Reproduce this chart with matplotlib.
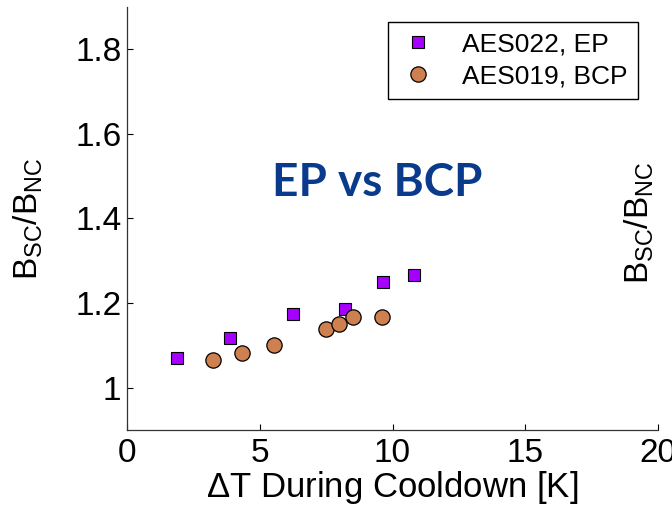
import matplotlib
matplotlib.use("Agg")
import matplotlib.pyplot as plt

plt.rcParams['font.family'] = ['Liberation Sans', 'DejaVu Sans']
plt.rcParams['mathtext.default'] = 'regular'

# AES022, EP
ep_dt = [1.9, 3.88, 6.24, 8.22, 9.65, 10.81]
ep_ratio = [1.070, 1.118, 1.174, 1.185, 1.249, 1.267]

# AES019, BCP
bcp_dt = [3.23, 4.32, 5.54, 7.50, 7.97, 8.51, 9.62]
bcp_ratio = [1.066, 1.083, 1.101, 1.139, 1.150, 1.166, 1.166]

x_ticks = [0, 5, 10, 15, 20]
y_ticks = [1.0, 1.2, 1.4, 1.6, 1.8]
y_tick_labels = ['1', '1.2', '1.4', '1.6', '1.8']

fig = plt.figure(figsize=(6.72, 5.05), dpi=100)
ax = fig.add_axes([127 / 672, 1 - 430 / 505, 531 / 672, 423.3 / 505])

ax.plot(ep_dt, ep_ratio, 's', color='#a600ff', markeredgecolor='black',
        markeredgewidth=0.8, markersize=8.5, label='AES022, EP')
ax.plot(bcp_dt, bcp_ratio, 'o', color='#cf8050', markeredgecolor='black',
        markeredgewidth=0.9, markersize=11, label='AES019, BCP')

ax.set_xlim(0, 20)
ax.set_ylim(0.9, 1.9)
ax.set_xticks(x_ticks)
ax.set_yticks(y_ticks)
ax.set_yticklabels(y_tick_labels)
ax.tick_params(direction='in', length=4, width=0.8, labelsize=24, pad=4)
ax.tick_params(axis='x', pad=6)

for side in ['top', 'right']:
    ax.spines[side].set_visible(False)
for side in ['left', 'bottom']:
    ax.spines[side].set_color('#333333')
    ax.spines[side].set_linewidth(0.9)

ax.set_xlabel(r'$\Delta$T During Cooldown [K]', fontsize=25, labelpad=0)
ax.set_ylabel(r'$B_{SC}/B_{NC}$', fontsize=24, labelpad=22)

leg = ax.legend(loc='upper right', bbox_to_anchor=(0.962, 0.964),
                borderaxespad=0, fontsize=19, fancybox=False,
                edgecolor='black', framealpha=1, handletextpad=0.9,
                borderpad=0.4, labelspacing=0.3, handlelength=1.5)
leg.get_frame().set_linewidth(1.0)

ax.text(0.471, 0.583, 'EP vs BCP', transform=ax.transAxes, fontsize=33,
        fontweight='bold', color='#0a3a8c', family='Lato',
        ha='center', va='center')

# label of the neighbouring panel, cut off at the right edge
fig.text(639 / 672, 1 - 223 / 505, r'$B_{SC}/B_{NC}$', fontsize=24,
         rotation=90, ha='center', va='center')

fig.savefig('out.png', dpi=100)
